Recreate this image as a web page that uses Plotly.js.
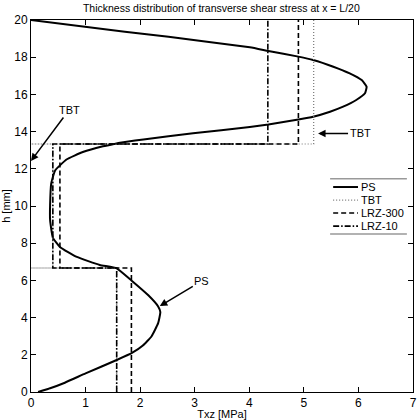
<!DOCTYPE html>
<html>
<head>
<meta charset="utf-8">
<script src="https://cdn.plot.ly/plotly-3.0.1.min.js"></script>
<style>
  html, body { margin: 0; padding: 0; background: #fff; }
  #chart { width: 420px; height: 420px; }
</style>
</head>
<body>
<div id="chart"></div>
<script>
// PS (plane stress) through-thickness profile
const psH   = [0, 0.2, 0.5, 1.0, 1.72, 2.1, 2.5, 3.0, 3.7, 4.3, 4.6, 5.2, 6.0, 6.65,
               6.83, 7.26, 7.8, 8.3, 9.25, 10.05, 11.2, 11.9, 12.5, 12.9, 13.2, 13.33,
               13.4, 13.58, 13.91, 14.25, 14.38, 14.65, 14.8, 15.07, 15.34, 15.7, 16.06, 16.41, 16.77,
               17.13, 17.49, 17.85, 18.03, 18.33, 18.53, 19.1, 19.37, 20];
const psTau = [0.13, 0.35, 0.62, 1.0, 1.57, 1.85, 2.05, 2.21, 2.33, 2.37, 2.33, 2.15, 1.84, 1.57,
               1.26, 0.84, 0.53, 0.40, 0.35, 0.35, 0.37, 0.44, 0.65, 0.95, 1.3, 1.52,
               1.63, 2.06, 2.97, 4.01, 4.35, 4.90, 5.17, 5.48, 5.72, 5.96, 6.12, 6.15, 6.06,
               5.84, 5.54, 5.17, 4.90, 4.35, 4.01, 2.52, 1.72, 0.0];

// layer interfaces [mm] and constant stress per layer (bottom, core, top)
const layerBounds = [0, 6.667, 13.333, 20];
const tbtTau    = [1.57, 0.40, 5.18];
const lrz300Tau = [1.84, 0.53, 4.90];
const lrz10Tau  = [1.57, 0.40, 4.34];

const seriesNames = ['PS', 'TBT', 'LRZ-300', 'LRZ-10'];

// step profile; TBT drops back to zero at the interfaces
function stepTrace(vals, toZero) {
  const x = [], y = [];
  vals.forEach((v, i) => {
    if (toZero && i > 0) { x.push(0); y.push(layerBounds[i]); }
    x.push(v); y.push(layerBounds[i]);
    x.push(v); y.push(layerBounds[i + 1]);
  });
  return { x, y };
}

const tbt = stepTrace(tbtTau, true);
const l300 = stepTrace(lrz300Tau, false);
const l10 = stepTrace(lrz10Tau, false);

// matlab-ish short dash patterns
const lineStyles = [
  { color: '#000', width: 2 },
  { color: '#777', width: 1.2, dash: '1px,2px' },
  { color: '#000', width: 1.6, dash: '5px,3px' },
  { color: '#000', width: 1.6, dash: '6px,2px,1.5px,2px' },
];

const traces = [
  { x: psTau, y: psH },
  tbt, l300, l10,
].map((d, i) => ({
  type: 'scatter', mode: 'lines', name: seriesNames[i],
  x: d.x, y: d.y, showlegend: false,
  line: i === 0 ? { ...lineStyles[i], shape: 'spline', smoothing: 0.4 } : lineStyles[i],
}));

// hand-made legend so rows sit as tight as in the original
const legendTop = 0.551, legendStep = 0.035;
const legendShapes = [
  { type: 'line', xref: 'paper', yref: 'paper', x0: 0.783, x1: 0.984, y0: 0.573, y1: 0.573,
    line: { color: '#999', width: 1.5 } },
  { type: 'line', xref: 'paper', yref: 'paper', x0: 0.783, x1: 0.984, y0: 0.425, y1: 0.425,
    line: { color: '#999', width: 1.5 } },
];
const legendNotes = [];
seriesNames.forEach((name, i) => {
  const yy = legendTop - i * legendStep;
  legendShapes.push({ type: 'line', xref: 'paper', yref: 'paper',
    x0: 0.791, x1: 0.856, y0: yy, y1: yy, line: lineStyles[i] });
  legendNotes.push({ xref: 'paper', yref: 'paper', x: 0.859, y: yy,
    xanchor: 'left', yanchor: 'middle', text: name, showarrow: false, font: { size: 11 } });
});

const axisBase = {
  showline: true, linecolor: '#000', linewidth: 1, mirror: 'ticks',
  ticks: 'inside', ticklen: 5, tickcolor: '#000',
  showgrid: false, zeroline: false, automargin: false,
  tickfont: { size: 12, color: '#000' },
};

const arrowStyle = { showarrow: true, arrowhead: 2, arrowsize: 1, arrowwidth: 1.5,
                     arrowcolor: '#000', font: { size: 11 } };

const layout = {
  width: 420, height: 420,
  paper_bgcolor: '#fff', plot_bgcolor: '#fff',
  font: { family: 'Liberation Sans, Arial, sans-serif', color: '#000', size: 11 },
  margin: { l: 31, r: 7, t: 20, b: 28 },
  title: { text: 'Thickness distribution of transverse shear stress at x = L/20',
           font: { size: 10.5 }, x: 0.527, xanchor: 'center', y: 0.988, yanchor: 'top' },
  xaxis: { ...axisBase, range: [0, 7], dtick: 1,
           title: { text: 'Txz [MPa]', font: { size: 11 }, standoff: 2 } },
  yaxis: { ...axisBase, range: [0, 20], dtick: 2,
           title: { text: 'h [mm]', font: { size: 11 }, standoff: 4 } },
  showlegend: false,
  shapes: legendShapes,
  annotations: [
    { x: 0, y: 12.42, ax: 38, ay: -51, text: 'TBT', ...arrowStyle },
    { x: 5.26, y: 13.9, ax: 42, ay: 0, text: 'TBT', ...arrowStyle },
    { x: 2.36, y: 4.62, ax: 42, ay: -25, text: 'PS', ...arrowStyle },
    ...legendNotes,
  ],
};

Plotly.newPlot('chart', traces, layout, { displayModeBar: false, staticPlot: true });
</script>
</body>
</html>
